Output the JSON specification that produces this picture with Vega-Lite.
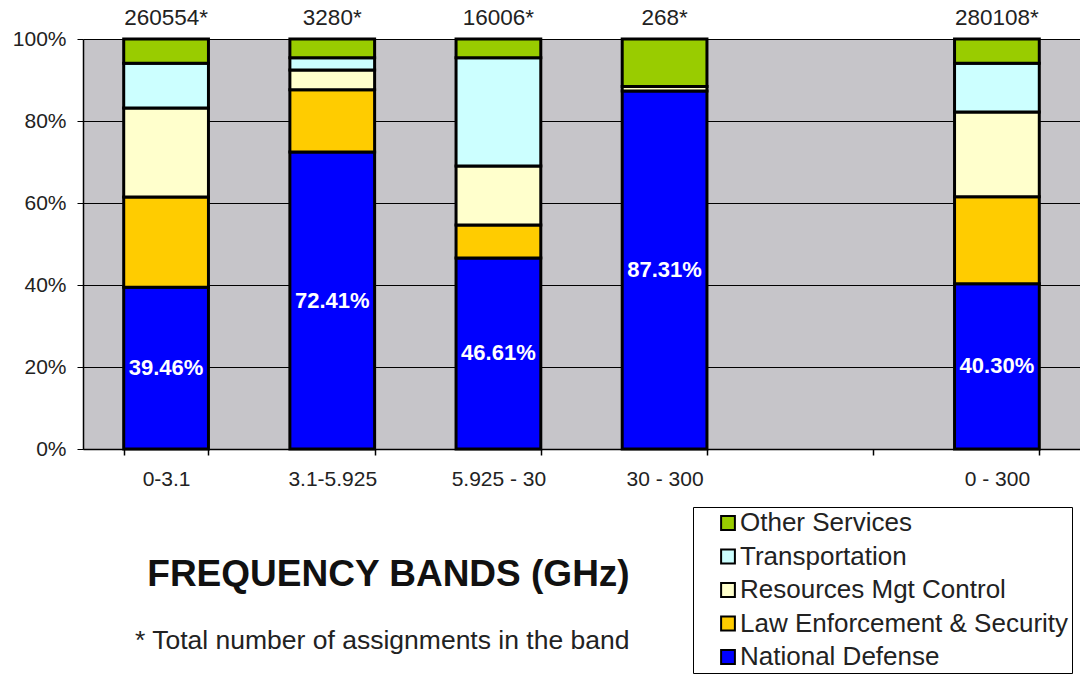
{
  "$schema": "https://vega.github.io/schema/vega-lite/v6.json",
  "width": 997,
  "height": 410,
  "autosize": "none",
  "padding": {"left": 83, "top": 39, "right": 0, "bottom": 228},
  "background": "white",
  "config": {
    "font": "Liberation Sans",
    "view": {"fill": "#c6c5c9", "stroke": null},
    "axis": {"labelFont": "Liberation Sans", "labelColor": "#222222", "domainColor": "black", "tickColor": "black"}
  },
  "title": {
    "text": "* Total number of assignments in the band",
    "orient": "top",
    "anchor": "start",
    "frame": "group",
    "dx": 52,
    "dy": 668,
    "offset": 0,
    "baseline": "alphabetic",
    "font": "Liberation Sans",
    "fontSize": 26.5,
    "fontWeight": "normal",
    "color": "#222222"
  },
  "datasets": {
    "shares": [
      {"band": "0-3.1", "service": "National Defense", "rank": 1, "share": 0.3946},
      {"band": "0-3.1", "service": "Law Enforcement & Security", "rank": 2, "share": 0.220},
      {"band": "0-3.1", "service": "Resources Mgt Control", "rank": 3, "share": 0.217},
      {"band": "0-3.1", "service": "Transportation", "rank": 4, "share": 0.109},
      {"band": "0-3.1", "service": "Other Services", "rank": 5, "share": 0.0594},
      {"band": "3.1-5.925", "service": "National Defense", "rank": 1, "share": 0.7241},
      {"band": "3.1-5.925", "service": "Law Enforcement & Security", "rank": 2, "share": 0.152},
      {"band": "3.1-5.925", "service": "Resources Mgt Control", "rank": 3, "share": 0.048},
      {"band": "3.1-5.925", "service": "Transportation", "rank": 4, "share": 0.030},
      {"band": "3.1-5.925", "service": "Other Services", "rank": 5, "share": 0.0459},
      {"band": "5.925 - 30", "service": "National Defense", "rank": 1, "share": 0.4661},
      {"band": "5.925 - 30", "service": "Law Enforcement & Security", "rank": 2, "share": 0.080},
      {"band": "5.925 - 30", "service": "Resources Mgt Control", "rank": 3, "share": 0.144},
      {"band": "5.925 - 30", "service": "Transportation", "rank": 4, "share": 0.264},
      {"band": "5.925 - 30", "service": "Other Services", "rank": 5, "share": 0.0459},
      {"band": "30 - 300", "service": "National Defense", "rank": 1, "share": 0.8731},
      {"band": "30 - 300", "service": "Resources Mgt Control", "rank": 3, "share": 0.0112},
      {"band": "30 - 300", "service": "Other Services", "rank": 5, "share": 0.1157},
      {"band": "0 - 300", "service": "National Defense", "rank": 1, "share": 0.4030},
      {"band": "0 - 300", "service": "Law Enforcement & Security", "rank": 2, "share": 0.212},
      {"band": "0 - 300", "service": "Resources Mgt Control", "rank": 3, "share": 0.207},
      {"band": "0 - 300", "service": "Transportation", "rank": 4, "share": 0.119},
      {"band": "0 - 300", "service": "Other Services", "rank": 5, "share": 0.059}
    ],
    "totals": [
      {"band": "0-3.1", "total": 260554},
      {"band": "3.1-5.925", "total": 3280},
      {"band": "5.925 - 30", "total": 16006},
      {"band": "30 - 300", "total": 268},
      {"band": "0 - 300", "total": 280108}
    ]
  },
  "encoding": {
    "x": {
      "field": "band",
      "type": "nominal",
      "scale": {"domain": ["0-3.1", "3.1-5.925", "5.925 - 30", "30 - 300", " ", "0 - 300"], "paddingInner": 0.49, "paddingOuter": 0.245},
      "axis": {
        "title": "FREQUENCY BANDS (GHz)",
        "titleFont": "Liberation Sans",
        "titleFontSize": 37,
        "titleFontWeight": "bold",
        "titleColor": "#111111",
        "titleX": 305,
        "titleY": 136,
        "titleAlign": "center",
        "titleBaseline": "alphabetic",
        "labelAngle": 0, "labelFontSize": 21, "labelPadding": 13, "tickBand": "extent", "tickSize": 6, "tickWidth": 1.5, "domainWidth": 1.5, "grid": false
      }
    }
  },
  "layer": [
    {
      "data": {"name": "shares"},
      "mark": {"type": "bar", "stroke": "black", "strokeWidth": 3},
      "encoding": {
        "y": {
          "field": "share",
          "type": "quantitative",
          "stack": "zero",
          "scale": {"domain": [0, 1], "nice": false},
          "axis": {"title": null, "format": ".0%", "values": [0, 0.2, 0.4, 0.6, 0.8, 1], "labelFontSize": 21, "labelPadding": 11, "tickSize": 6, "grid": true, "gridColor": "black", "gridWidth": 1, "gridOpacity": 1, "domainWidth": 1.5}
        },
        "color": {
          "field": "service",
          "type": "nominal",
          "scale": {
            "domain": ["Other Services", "Transportation", "Resources Mgt Control", "Law Enforcement & Security", "National Defense"],
            "range": ["#99cc00", "#ccffff", "#ffffcc", "#ffcc00", "#0000ff"]
          },
          "legend": {
            "title": null,
            "orient": "none",
            "legendX": 610,
            "legendY": 468,
            "symbolType": "square",
            "symbolSize": 190,
            "symbolStrokeColor": "black",
            "symbolStrokeWidth": 2,
            "symbolOffset": 19,
            "labelFontSize": 26,
            "labelFont": "Liberation Sans",
            "labelColor": "#222222",
            "labelOffset": -1,
            "labelLimit": 500,
            "rowPadding": 7.5,
            "padding": 3,
            "strokeColor": "black",
            "fillColor": "white"
          }
        },
        "order": {"field": "rank", "type": "quantitative", "sort": "ascending"}
      }
    },
    {
      "data": {"name": "shares"},
      "transform": [
        {"filter": "datum.service === 'National Defense'"},
        {"calculate": "datum.share / 2", "as": "mid"}
      ],
      "mark": {"type": "text", "color": "white", "fontWeight": "bold", "fontSize": 22, "font": "Liberation Sans", "baseline": "middle"},
      "encoding": {
        "y": {"field": "mid", "type": "quantitative"},
        "text": {"field": "share", "type": "quantitative", "format": ".2%"}
      }
    },
    {
      "data": {"name": "totals"},
      "transform": [{"calculate": "datum.total + '*'", "as": "label"}],
      "mark": {"type": "text", "fontSize": 22.5, "font": "Liberation Sans", "color": "#222222", "baseline": "middle", "dy": -21},
      "encoding": {
        "y": {"datum": 1, "type": "quantitative"},
        "text": {"field": "label", "type": "nominal"}
      }
    }
  ]
}
